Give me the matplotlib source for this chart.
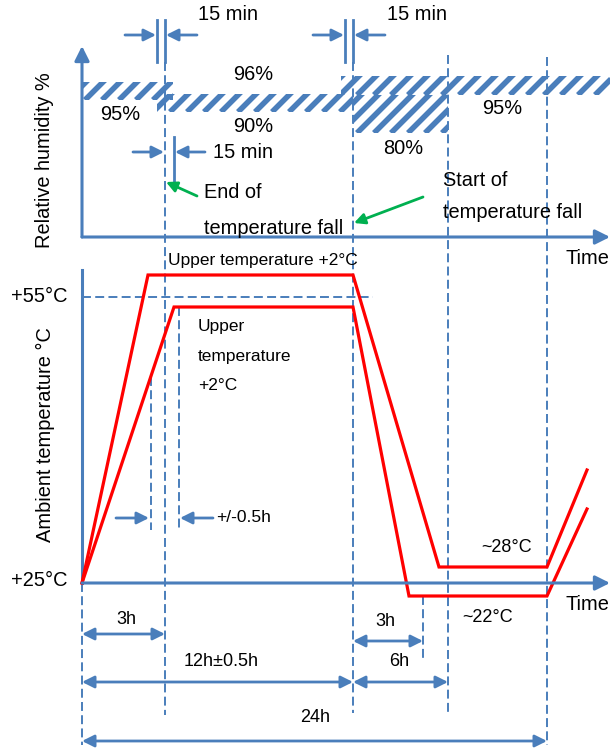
"""Damp heat cyclic test profile: relative humidity and ambient temperature vs time (schematic)."""

import matplotlib
matplotlib.use("Agg")
import matplotlib.pyplot as plt
import numpy as np
from matplotlib.patches import Rectangle

BLUE = "#4A7EBB"
RED = "#FF0000"
GREEN = "#00B050"
DASH = (0, (4.6, 2.2))

plt.rcParams["font.family"] = ["Liberation Sans", "DejaVu Sans"]

# schematic diagram units (the drawing is not to scale)
T0, T3, T12, T15, T18, T24 = 82, 165, 353, 423, 448, 547
Y25, Y55 = 583, 297

# temperature curves
UPPER_X = [T0, 148, T12, 439, T24, 587]
UPPER_Y = [Y25, 275, 275, 567, 567, 470]
LOWER_X = [T0, 174, T12, 409, T24, 587]
LOWER_Y = [Y25, 307, 307, 596, 596, 509]

# humidity bands: (x0, x1, y_top, y_bottom)
RH_BANDS = [
    (82, 173, 82, 100),
    (157, 353, 94, 112),
    (341, 610, 76, 95),
    (353, 448, 95, 133),
]
RH_LABELS = [("95%", 120, 114), ("96%", 253, 75), ("90%", 253, 127),
             ("80%", 403, 149), ("95%", 502, 109)]

# dimension arrows: (x0, x1, y, label, label_x, label_y)
DIMENSIONS = [
    (T0, T3, 634, "3h", 126, 619),
    (T0, T12, 682, "12h±0.5h", 221, 661),
    (T0, T24, 741, "24h", 315, 718),
    (T12, T15, 641, "3h", 385, 621),
    (T12, T18, 682, "6h", 399, 661),
]

FS = 14.4
FS_SMALL = 13


def arrow(ax, start, end, style="-|>", color=BLUE, lw=2.0, ms=18):
    ax.annotate("", xy=end, xytext=start,
                arrowprops=dict(arrowstyle=style, color=color, lw=lw,
                                mutation_scale=ms, shrinkA=0, shrinkB=0))


def dashed(ax, x, y0, y1):
    ax.plot([x, x], [y0, y1], color=BLUE, lw=1.4, ls=DASH)


def hatch_band(ax, x0, x1, yt, yb, step=17.0):
    rect = Rectangle((x0, yt), x1 - x0, yb - yt, facecolor="none", lw=0)
    ax.add_patch(rect)
    h = yb - yt
    # stripes share one phase so bands line up with each other
    for xs in np.arange(np.floor((x0 - h - 5) / step) * step, x1 + step, step):
        ln, = ax.plot([xs, xs + 150], [yb, yb - 150],
                      color=BLUE, lw=4, solid_capstyle="butt")
        ln.set_clip_path(rect)


def main():
    fig = plt.figure(figsize=(6.1, 7.5), dpi=100)
    ax = fig.add_axes([0, 0, 1, 1])
    ax.set_xlim(0, 610)
    ax.set_ylim(750, 0)
    ax.axis("off")

    # dashed guide lines
    dashed(ax, T0, Y25, 745)
    dashed(ax, T3, 62, 715)
    dashed(ax, T12, 62, 713)
    dashed(ax, T18, 55, 713)
    dashed(ax, T24, 57, 745)
    dashed(ax, T15, 596, 661)
    dashed(ax, 151, 377, 530)
    dashed(ax, 179, 307, 530)
    ax.plot([T0, 373], [Y55, Y55], color=BLUE, lw=1.4, ls=DASH)

    # humidity bands
    for x0, x1, yt, yb in RH_BANDS:
        hatch_band(ax, x0, x1, yt, yb)
    for txt, x, y in RH_LABELS:
        ax.text(x, y, txt, fontsize=FS, ha="center", va="center")

    # axes
    arrow(ax, (T0, 237), (T0, 46), ms=22, lw=2.2)
    arrow(ax, (T0, 237), (610, 237), ms=22, lw=2.2)
    arrow(ax, (T0, Y25), (610, Y25), ms=22, lw=2.2)
    ax.plot([T0, T0], [Y25, 270], color=BLUE, lw=2.2)
    ax.text(565, 258, "Time", fontsize=FS, ha="left", va="center")
    ax.text(565, 605, "Time", fontsize=FS, ha="left", va="center")
    ax.text(45, 160, "Relative humidity %", fontsize=FS, rotation=90,
            ha="center", va="center")
    ax.text(45, 435, "Ambient temperature °C", fontsize=FS, rotation=90,
            ha="center", va="center")
    ax.text(68, Y55, "+55°C", fontsize=FS, ha="right", va="center")
    ax.text(68, 580, "+25°C", fontsize=FS, ha="right", va="center")

    # 15 min markers
    for xa, xb in [(157, 165), (345, 353)]:
        ax.plot([xa, xa], [20, 62], color=BLUE, lw=2)
        ax.plot([xb, xb], [20, 62], color=BLUE, lw=2)
        arrow(ax, (xa - 32, 35), (xa - 1, 35))
        arrow(ax, (xb + 32, 35), (xb + 1, 35))
    ax.text(198, 15, "15 min", fontsize=FS, ha="left", va="center")
    ax.text(387, 15, "15 min", fontsize=FS, ha="left", va="center")
    ax.plot([174, 174], [137, 181], color=BLUE, lw=2)
    arrow(ax, (133, 152), (164, 152))
    arrow(ax, (205, 152), (175, 152))
    ax.text(213, 152, "15 min", fontsize=FS, ha="left", va="center")

    # green pointers
    arrow(ax, (197, 196), (166, 182), color=GREEN, ms=16)
    ax.text(204, 192, "End of", fontsize=FS, ha="left", va="center")
    ax.text(204, 228, "temperature fall", fontsize=FS, ha="left", va="center")
    arrow(ax, (423, 197), (354, 223), color=GREEN, ms=16)
    ax.text(443, 180, "Start of", fontsize=FS, ha="left", va="center")
    ax.text(443, 213, "temperature fall", fontsize=FS, ha="left", va="center")

    # temperature curves
    ax.plot(UPPER_X, UPPER_Y, color=RED, lw=2.3, solid_joinstyle="miter")
    ax.plot(LOWER_X, LOWER_Y, color=RED, lw=2.3, solid_joinstyle="miter")
    ax.text(168, 260, "Upper temperature +2°C", fontsize=12.5, ha="left", va="center")
    for i, line in enumerate(["Upper", "temperature", "+2°C"]):
        ax.text(198, 327 + i * 29.5, line, fontsize=12.5, ha="left", va="center")
    ax.text(507, 547, "~28°C", fontsize=FS_SMALL, ha="center", va="center")
    ax.text(488, 618, "~22°C", fontsize=FS_SMALL, ha="center", va="center")

    # +/-0.5h tolerance
    arrow(ax, (116, 518), (149, 518))
    arrow(ax, (213, 518), (180, 518))
    ax.text(216, 518, "+/-0.5h", fontsize=12.5, ha="left", va="center")

    # duration dimensions
    for x0, x1, y, label, lx, ly in DIMENSIONS:
        arrow(ax, (x0, y), (x1, y), style="<|-|>")
        ax.text(lx, ly, label, fontsize=FS_SMALL, ha="center", va="center")

    fig.savefig("out.png", dpi=100)


if __name__ == "__main__":
    main()
